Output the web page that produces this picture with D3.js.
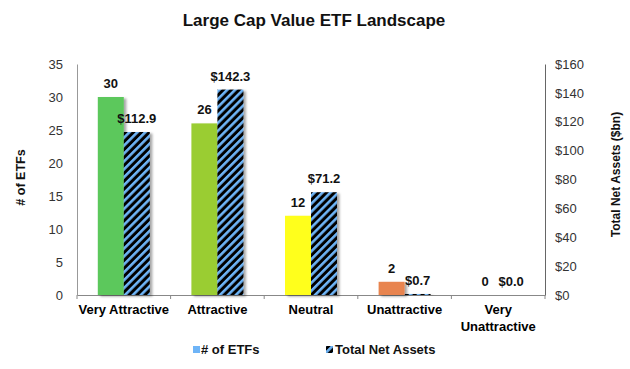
<!DOCTYPE html>
<html>
<head>
<meta charset="utf-8">
<script src="https://cdn.jsdelivr.net/npm/d3@7"></script>
<style>
  body { margin: 0; background: #fff; }
  svg { font-family: "Liberation Sans", Arial, sans-serif; }
</style>
</head>
<body>
<svg id="chart"></svg>
<script>
const categories = ['Very Attractive', 'Attractive', 'Neutral', 'Unattractive', 'Very Unattractive'];
const etfCounts = [30, 26, 12, 2, 0];
const netAssets = [112.9, 142.3, 71.2, 0.7, 0.0];
const countColors = ['#5cc85c', '#9acd32', '#ffff1a', '#e8844f', '#e05050'];
const leftTicks = [0, 5, 10, 15, 20, 25, 30, 35];
const rightTicks = [0, 20, 40, 60, 80, 100, 120, 140, 160];

const [svgWidth, svgHeight] = [630, 369];
const margin = { top: 64, right: 85, bottom: 74, left: 77 };
const [chartWidth, chartHeight] = [svgWidth - margin.left - margin.right, svgHeight - margin.top - margin.bottom];

const svg = d3.select('#chart')
    .attr('width', svgWidth)
    .attr('height', svgHeight);

const defs = svg.append('defs');

// hatch for net assets bars
const hatch = defs.append('pattern')
    .attr('id', 'hatch')
    .attr('patternUnits', 'userSpaceOnUse')
    .attr('width', 5.6)
    .attr('height', 5.6)
    .attr('patternTransform', 'rotate(45)');
hatch.append('rect').attr('width', 5.6).attr('height', 5.6).attr('fill', '#000');
hatch.append('rect').attr('width', 2.6).attr('height', 5.6).attr('fill', '#6eb4f7');

const shadow = defs.append('filter')
    .attr('id', 'shadow')
    .attr('x', '-20%').attr('y', '-20%')
    .attr('width', '150%').attr('height', '150%');
shadow.append('feDropShadow')
    .attr('dx', 2.5).attr('dy', 1.5)
    .attr('stdDeviation', 1.2)
    .attr('flood-color', '#000')
    .attr('flood-opacity', 0.35);

const xScale = d3.scaleBand()
    .domain(categories)
    .range([0, chartWidth]);

const subScale = d3.scaleBand()
    .domain(['count', 'assets'])
    .range([0, 52])
    .paddingInner(0);

const yLeft = d3.scaleLinear().domain([0, 35]).range([chartHeight, 0]);
const yRight = d3.scaleLinear().domain([0, 160]).range([chartHeight, 0]);

// title
svg.append('text')
    .attr('x', 314)
    .attr('y', 26)
    .attr('text-anchor', 'middle')
    .attr('font-size', 17)
    .attr('font-weight', 'bold')
    .attr('fill', '#111')
    .text('Large Cap Value ETF Landscape');

const g = svg.append('g')
    .attr('transform', `translate(${[margin.left, margin.top]})`);

// left axis
const leftAxis = g.append('g')
    .call(d3.axisLeft(yLeft).tickValues(leftTicks).tickSize(0).tickPadding(14));
leftAxis.select('.domain').attr('stroke', '#999');
leftAxis.selectAll('text').attr('font-size', 13).attr('fill', '#333').attr('font-family', 'Liberation Sans, Arial, sans-serif');

// right axis
const rightAxis = g.append('g')
    .attr('transform', `translate(${chartWidth},0)`)
    .call(d3.axisRight(yRight).tickValues(rightTicks).tickSize(0).tickPadding(10).tickFormat(d => '$' + d));
rightAxis.select('.domain').attr('stroke', '#666');
rightAxis.selectAll('text').attr('font-size', 13).attr('fill', '#333').attr('font-family', 'Liberation Sans, Arial, sans-serif');

// bottom axis
const bottomAxis = g.append('g')
    .attr('transform', `translate(0,${chartHeight})`)
    .call(d3.axisBottom(xScale).tickSize(0).tickFormat(''));
bottomAxis.select('.domain').attr('stroke', '#888');

const tickXs = d3.range(categories.length + 1).map(i => i * xScale.step());
g.selectAll('.xtick')
    .data(tickXs)
    .join('line')
    .attr('x1', d => d).attr('x2', d => d)
    .attr('y1', chartHeight).attr('y2', chartHeight + 4)
    .attr('stroke', '#888');

// category labels
g.selectAll('.cat-label')
    .data(categories)
    .join('text')
    .attr('text-anchor', 'middle')
    .attr('font-size', 13)
    .attr('font-weight', 'bold')
    .attr('fill', '#000')
    .each(function (d) {
        const cx = xScale(d) + xScale.bandwidth() / 2;
        const lines = d === 'Very Unattractive' ? ['Very', 'Unattractive'] : [d];
        d3.select(this).selectAll('tspan')
            .data(lines)
            .join('tspan')
            .attr('x', cx)
            .attr('y', (l, i) => chartHeight + 19 + i * 17)
            .text(l => l);
    });

const groupOffset = (xScale.bandwidth() - 52) / 2;

// count bars
g.selectAll('.count-bar')
    .data(categories)
    .join('rect')
    .attr('x', d => xScale(d) + groupOffset + subScale('count'))
    .attr('y', (d, i) => yLeft(etfCounts[i]))
    .attr('width', subScale.bandwidth())
    .attr('height', (d, i) => chartHeight - yLeft(etfCounts[i]))
    .attr('fill', (d, i) => countColors[i])
    .attr('filter', 'url(#shadow)');

// net assets bars
g.selectAll('.asset-bar')
    .data(categories)
    .join('rect')
    .attr('x', d => xScale(d) + groupOffset + subScale('assets'))
    .attr('y', (d, i) => yRight(netAssets[i]))
    .attr('width', subScale.bandwidth())
    .attr('height', (d, i) => chartHeight - yRight(netAssets[i]))
    .attr('fill', 'url(#hatch)')
    .attr('filter', 'url(#shadow)');

// value labels
g.selectAll('.count-label')
    .data(categories)
    .join('text')
    .attr('x', d => xScale(d) + groupOffset + subScale('count') + subScale.bandwidth() / 2)
    .attr('y', (d, i) => yLeft(etfCounts[i]) - 9)
    .attr('text-anchor', 'middle')
    .attr('font-size', 13)
    .attr('font-weight', 'bold')
    .attr('fill', '#111')
    .text((d, i) => etfCounts[i]);

g.selectAll('.asset-label')
    .data(categories)
    .join('text')
    .attr('x', d => xScale(d) + groupOffset + subScale('assets') + subScale.bandwidth() / 2)
    .attr('y', (d, i) => yRight(netAssets[i]) - 9)
    .attr('text-anchor', 'middle')
    .attr('font-size', 13)
    .attr('font-weight', 'bold')
    .attr('fill', '#111')
    .text((d, i) => '$' + netAssets[i].toFixed(1));

// axis titles
svg.append('text')
    .attr('transform', `translate(25,${margin.top + chartHeight / 2 - 2}) rotate(-90)`)
    .attr('text-anchor', 'middle')
    .attr('font-size', 12.5)
    .attr('font-weight', 'bold')
    .attr('fill', '#111')
    .text('# of ETFs');

svg.append('text')
    .attr('transform', `translate(620,${margin.top + chartHeight / 2 - 5}) rotate(-90)`)
    .attr('text-anchor', 'middle')
    .attr('font-size', 12)
    .attr('font-weight', 'bold')
    .attr('fill', '#111')
    .text('Total Net Assets ($bn)');

// legend
const legend = svg.append('g').attr('transform', 'translate(0,352)');
legend.append('rect')
    .attr('x', 193).attr('y', -6).attr('width', 7).attr('height', 7)
    .attr('fill', '#6eb4f7');
legend.append('text')
    .attr('x', 201).attr('y', 2)
    .attr('font-size', 13)
    .attr('font-weight', 'bold')
    .attr('fill', '#111')
    .text('# of ETFs');
legend.append('rect')
    .attr('x', 326).attr('y', -6).attr('width', 7).attr('height', 7)
    .attr('fill', 'url(#hatch)');
legend.append('text')
    .attr('x', 335).attr('y', 2)
    .attr('font-size', 13)
    .attr('font-weight', 'bold')
    .attr('fill', '#111')
    .text('Total Net Assets');
</script>
</body>
</html>
